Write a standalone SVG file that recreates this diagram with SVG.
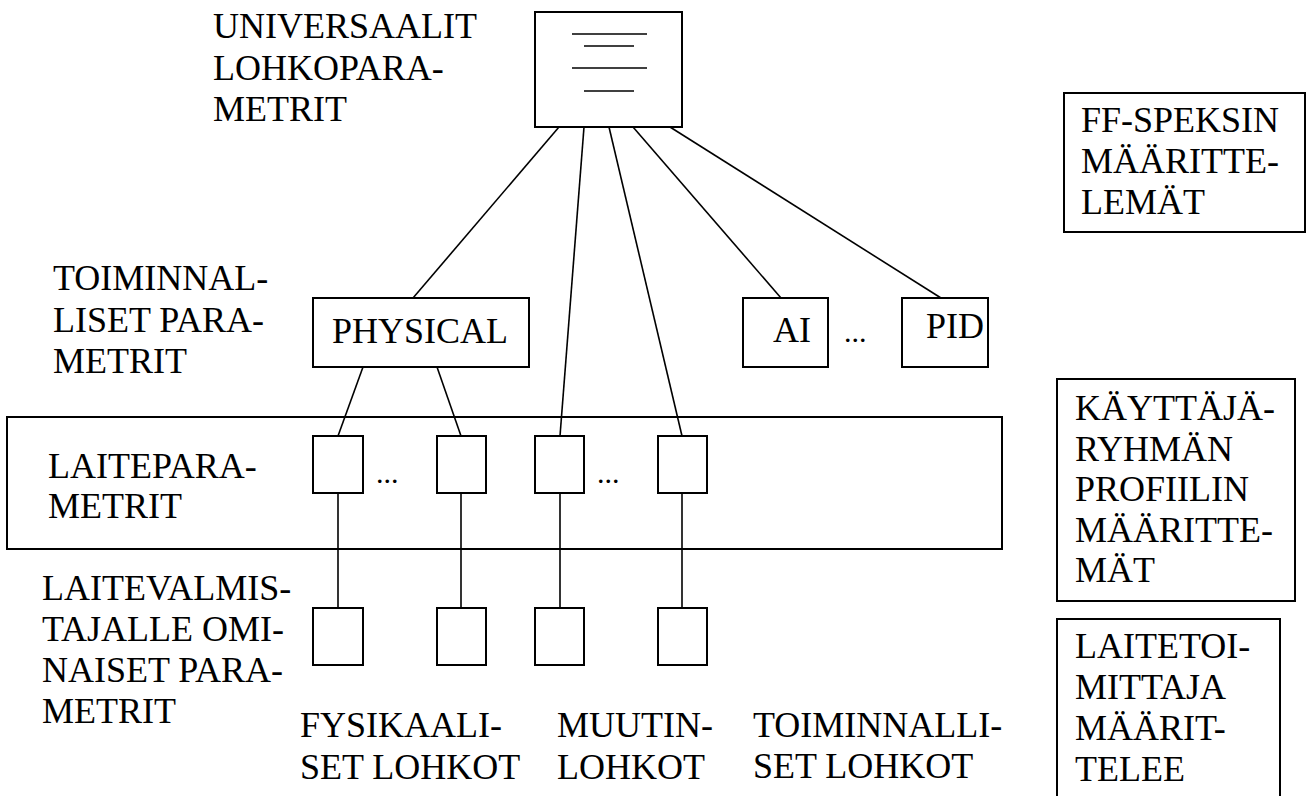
<svg xmlns="http://www.w3.org/2000/svg" width="1307" height="796" viewBox="0 0 1307 796">
<style>
.box{fill:#fff;stroke:#000;stroke-width:2}
.frame{fill:none;stroke:#000;stroke-width:2}
.ln{stroke:#000;stroke-width:1.6;fill:none}
text{font-size:36px;fill:#000}
.dots{font-size:30px}
</style>
<rect width="1307" height="796" fill="#fff"/>
<g id="connectors">
<line class="ln" x1="559" y1="127" x2="413" y2="298"/>
<line class="ln" x1="584" y1="127" x2="560" y2="436"/>
<line class="ln" x1="609" y1="127" x2="682" y2="436"/>
<line class="ln" x1="633" y1="127" x2="781" y2="298"/>
<line class="ln" x1="670" y1="127" x2="941" y2="298"/>
<line class="ln" x1="363" y1="367" x2="338" y2="436"/>
<line class="ln" x1="437" y1="367" x2="461" y2="436"/>
<line class="ln" x1="338" y1="493" x2="338" y2="608"/>
<line class="ln" x1="461" y1="493" x2="461" y2="608"/>
<line class="ln" x1="560" y1="493" x2="560" y2="608"/>
<line class="ln" x1="682" y1="493" x2="682" y2="608"/>
</g>
<g font-family="'Liberation Serif', 'Times New Roman', serif">
<g id="laiteparametrit-area">
<rect class="frame" x="7" y="417" width="995" height="132"/>
<text x="48" y="478">LAITEPARA-</text>
<text x="48" y="518">METRIT</text>
</g>
<g id="universal">
<rect class="box" x="535" y="12" width="147" height="115"/>
<line class="ln" x1="572" y1="34" x2="647" y2="34"/>
<line class="ln" x1="584" y1="46" x2="634" y2="46"/>
<line class="ln" x1="572" y1="68" x2="647" y2="68"/>
<line class="ln" x1="584" y1="91" x2="634" y2="91"/>
</g>
<g id="physical">
<rect class="box" x="313" y="298" width="216" height="69"/>
<text x="332" y="343">PHYSICAL</text>
</g>
<g id="ai">
<rect class="box" x="743" y="298" width="85" height="69"/>
<text x="773" y="342">AI</text>
</g>
<text class="dots" x="844" y="342">...</text>
<g id="pid">
<rect class="box" x="902" y="298" width="86" height="69"/>
<text x="926" y="338">PID</text>
</g>
<g id="dev1"><rect class="box" x="313" y="436" width="50" height="57"/></g>
<text class="dots" x="376" y="483">...</text>
<g id="dev2"><rect class="box" x="437" y="436" width="49" height="57"/></g>
<g id="dev3"><rect class="box" x="535" y="436" width="49" height="57"/></g>
<text class="dots" x="597" y="483">...</text>
<g id="dev4"><rect class="box" x="658" y="436" width="49" height="57"/></g>
<g id="mfr1"><rect class="box" x="313" y="608" width="50" height="57"/></g>
<g id="mfr2"><rect class="box" x="437" y="608" width="49" height="57"/></g>
<g id="mfr3"><rect class="box" x="535" y="608" width="49" height="57"/></g>
<g id="mfr4"><rect class="box" x="658" y="608" width="49" height="57"/></g>
<g id="labels">
<text x="213" y="38">UNIVERSAALIT</text>
<text x="213" y="80">LOHKOPARA-</text>
<text x="213" y="121">METRIT</text>
<text x="53" y="290">TOIMINNAL-</text>
<text x="53" y="332">LISET PARA-</text>
<text x="53" y="373">METRIT</text>
<text x="42" y="600">LAITEVALMIS-</text>
<text x="42" y="641">TAJALLE OMI-</text>
<text x="42" y="682">NAISET PARA-</text>
<text x="42" y="723">METRIT</text>
<text x="300" y="737">FYSIKAALI-</text>
<text x="300" y="779">SET LOHKOT</text>
<text x="557" y="737">MUUTIN-</text>
<text x="557" y="779">LOHKOT</text>
<text x="753" y="737">TOIMINNALLI-</text>
<text x="753" y="778">SET LOHKOT</text>
</g>
<g id="ff-spec">
<rect class="box" x="1064" y="93" width="241" height="139"/>
<text x="1081" y="132">FF-SPEKSIN</text>
<text x="1081" y="173">MÄÄRITTE-</text>
<text x="1081" y="214">LEMÄT</text>
</g>
<g id="user-group">
<rect class="box" x="1057" y="379" width="238" height="222"/>
<text x="1075" y="420">KÄYTTÄJÄ-</text>
<text x="1075" y="461">RYHMÄN</text>
<text x="1075" y="501">PROFIILIN</text>
<text x="1075" y="542">MÄÄRITTE-</text>
<text x="1075" y="582">MÄT</text>
</g>
<g id="vendor">
<rect class="box" x="1057" y="619" width="223" height="190"/>
<text x="1075" y="658">LAITETOI-</text>
<text x="1075" y="699">MITTAJA</text>
<text x="1075" y="740">MÄÄRIT-</text>
<text x="1075" y="781">TELEE</text>
</g>
</g>
</svg>
